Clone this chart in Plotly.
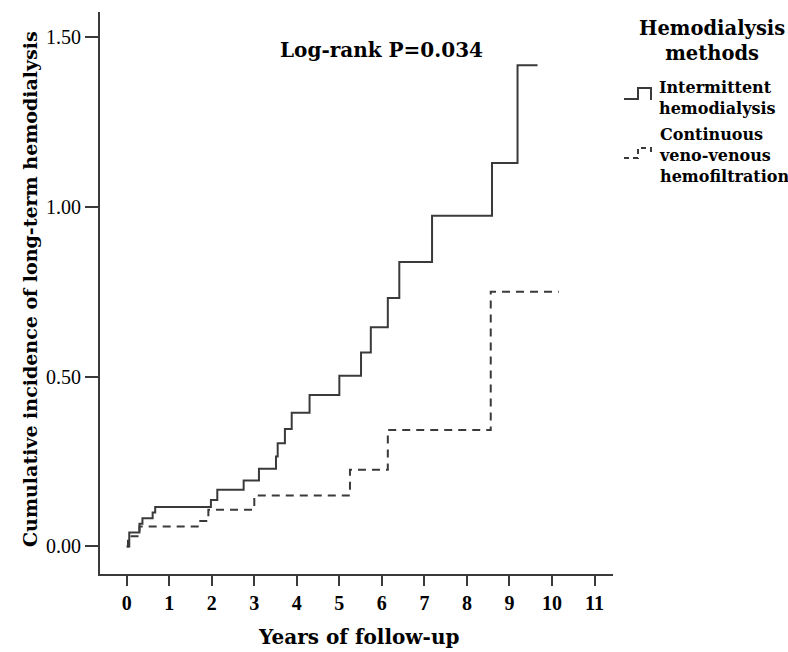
import plotly.graph_objects as go

# ---- data ----
ihd_years = [0, 0.06, 0.30, 0.37, 0.61, 0.67, 1.98, 2.13, 2.75, 3.11, 3.51, 3.55, 3.72,
             3.88, 4.30, 5.00, 5.51, 5.74, 6.14, 6.41, 7.18, 8.59, 9.19, 9.66]
ihd_cuminc = [0, 0.041, 0.067, 0.083, 0.100, 0.116, 0.137, 0.167, 0.194, 0.229, 0.265, 0.304, 0.346,
              0.394, 0.446, 0.503, 0.571, 0.646, 0.732, 0.838, 0.974, 1.129, 1.417, 1.417]

cvvh_years = [0, 0.03, 0.30, 1.73, 1.92, 3.00, 5.25, 6.14, 8.56, 10.16]
cvvh_cuminc = [0, 0.030, 0.059, 0.075, 0.108, 0.150, 0.226, 0.343, 0.750, 0.750]

x_ticks = list(range(0, 12))
y_ticks = [0, 0.5, 1.0, 1.5]
y_ticklabels = ["0.00", "0.50", "1.00", "1.50"]

series_names = ["Intermittent<br>hemodialysis", "Continuous<br>veno-venous<br>hemofiltration"]
legend_title = "Hemodialysis<br>methods"
annotation_text = "Log-rank P=0.034"

# ---- layout geometry (pixels) ----
W, H = 788, 652
L, R, T, B = 100, 175, 12, 78
PW, PH = W - L - R, H - T - B


def px(x):
    return (x - L) / PW


def py(y):
    return (H - B - y) / PH


LINE = "#3a3a3a"
BOLD = "DejaVu Serif"
SERIF = "Liberation Serif"

fig = go.Figure()
fig.add_trace(go.Scatter(x=ihd_years, y=ihd_cuminc, mode="lines", line_shape="hv",
                         line=dict(color=LINE, width=2), name=series_names[0],
                         showlegend=False))
fig.add_trace(go.Scatter(x=cvvh_years, y=cvvh_cuminc, mode="lines", line_shape="hv",
                         line=dict(color=LINE, width=2, dash="8px,6px"), name=series_names[1],
                         showlegend=False))

fig.update_layout(
    width=W, height=H, autosize=False,
    margin=dict(l=L, r=R, t=T, b=B, pad=0),
    plot_bgcolor="white", paper_bgcolor="white",
    xaxis=dict(range=[-0.628, 11.435], tickvals=x_ticks, ticktext=[str(v) for v in x_ticks],
               showline=True, linecolor=LINE, linewidth=2, ticks="outside", ticklen=10,
               tickwidth=2, tickcolor=LINE, showgrid=False, zeroline=False,
               tickfont=dict(family=SERIF, size=20, color="black", weight="bold")),
    yaxis=dict(range=[-0.081, 1.574], tickvals=y_ticks, ticktext=y_ticklabels,
               showline=True, linecolor=LINE, linewidth=2, ticks="outside", ticklen=13,
               tickwidth=2, tickcolor=LINE, showgrid=False, zeroline=False,
               tickfont=dict(family=SERIF, size=20, color="black")),
)

anns = [
    dict(text="Cumulative incidence of long-term hemodialysis", x=px(30), y=py(289),
         textangle=-90, font=dict(family=BOLD, size=19, weight="bold")),
    dict(text="Years of follow-up", x=px(358), y=py(637),
         font=dict(family=BOLD, size=20, weight="bold")),
    dict(text=annotation_text, x=px(381), y=py(50),
         font=dict(family=BOLD, size=20, weight="bold")),
    dict(text=legend_title, x=px(712), y=py(41),
         font=dict(family=BOLD, size=19.5, weight="bold")),
    dict(text=series_names[0], x=px(657), y=py(98), xanchor="left", align="left",
         font=dict(family=BOLD, size=16, weight="bold")),
    dict(text=series_names[1], x=px(657), y=py(155), xanchor="left", align="left",
         font=dict(family=BOLD, size=16, weight="bold")),
]
for a in anns:
    a.setdefault("xanchor", "center")
    a.update(xref="paper", yref="paper", yanchor="middle", showarrow=False)
    a["font"].setdefault("color", "black")
fig.update_layout(annotations=anns)


def path(points):
    return "M" + " L".join(f"{px(x):.5f},{py(y):.5f}" for x, y in points)


fig.update_layout(shapes=[
    dict(type="path", xref="paper", yref="paper",
         path=path([(624, 99), (638, 99), (638, 88), (651, 88), (651, 100)]),
         line=dict(color=LINE, width=2)),
    dict(type="path", xref="paper", yref="paper",
         path=path([(624, 158), (638, 158), (638, 148), (651, 148), (651, 156)]),
         line=dict(color=LINE, width=2, dash="5px,4px")),
])

fig.write_html("out.html", config={"displayModeBar": False},
               post_script="document.body.style.margin='0';document.body.style.overflow='hidden';")
